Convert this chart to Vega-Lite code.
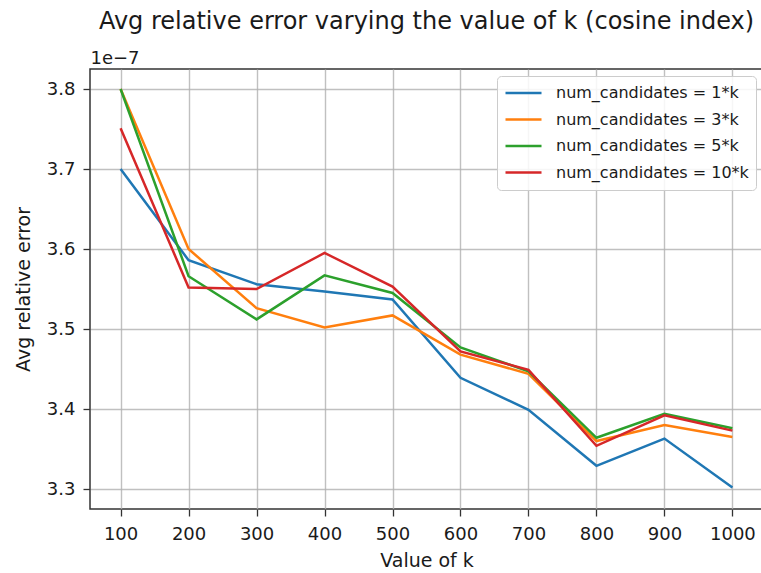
{
  "$schema": "https://vega.github.io/schema/vega-lite/v6.json",
  "autosize": {"type": "none"},
  "width": 673,
  "height": 440,
  "padding": {"left": 90, "top": 69, "right": 0, "bottom": 64},
  "background": "white",
  "title": {
    "text": "Avg relative error varying the value of k (cosine index)",
    "font": "DejaVu Sans",
    "fontSize": 24,
    "fontWeight": "normal",
    "color": "#1a1a1a",
    "anchor": "middle",
    "offset": 15
  },
  "config": {
    "view": {"stroke": "#333333", "strokeWidth": 1.5},
    "axis": {
      "labelFont": "DejaVu Sans",
      "titleFont": "DejaVu Sans",
      "labelFontSize": 18,
      "titleFontSize": 19,
      "titleFontWeight": "normal",
      "labelColor": "#1a1a1a",
      "titleColor": "#1a1a1a",
      "domain": false,
      "tickColor": "#333333",
      "tickSize": 7,
      "tickWidth": 1.3,
      "gridColor": "#b0b0b0",
      "gridWidth": 1.4,
      "gridOpacity": 0.8
    },
    "legend": {
      "labelFont": "DejaVu Sans",
      "labelFontSize": 16,
      "labelColor": "#1a1a1a",
      "labelLimit": 400
    }
  },
  "data": {
    "values": [
      {"k": 100, "series": "num_candidates = 1*k", "err": 3.700e-7},
      {"k": 200, "series": "num_candidates = 1*k", "err": 3.586e-7},
      {"k": 300, "series": "num_candidates = 1*k", "err": 3.556e-7},
      {"k": 400, "series": "num_candidates = 1*k", "err": 3.547e-7},
      {"k": 500, "series": "num_candidates = 1*k", "err": 3.537e-7},
      {"k": 600, "series": "num_candidates = 1*k", "err": 3.439e-7},
      {"k": 700, "series": "num_candidates = 1*k", "err": 3.399e-7},
      {"k": 800, "series": "num_candidates = 1*k", "err": 3.329e-7},
      {"k": 900, "series": "num_candidates = 1*k", "err": 3.363e-7},
      {"k": 1000, "series": "num_candidates = 1*k", "err": 3.302e-7},
      {"k": 100, "series": "num_candidates = 3*k", "err": 3.800e-7},
      {"k": 200, "series": "num_candidates = 3*k", "err": 3.600e-7},
      {"k": 300, "series": "num_candidates = 3*k", "err": 3.526e-7},
      {"k": 400, "series": "num_candidates = 3*k", "err": 3.502e-7},
      {"k": 500, "series": "num_candidates = 3*k", "err": 3.517e-7},
      {"k": 600, "series": "num_candidates = 3*k", "err": 3.468e-7},
      {"k": 700, "series": "num_candidates = 3*k", "err": 3.444e-7},
      {"k": 800, "series": "num_candidates = 3*k", "err": 3.360e-7},
      {"k": 900, "series": "num_candidates = 3*k", "err": 3.380e-7},
      {"k": 1000, "series": "num_candidates = 3*k", "err": 3.365e-7},
      {"k": 100, "series": "num_candidates = 5*k", "err": 3.800e-7},
      {"k": 200, "series": "num_candidates = 5*k", "err": 3.566e-7},
      {"k": 300, "series": "num_candidates = 5*k", "err": 3.512e-7},
      {"k": 400, "series": "num_candidates = 5*k", "err": 3.567e-7},
      {"k": 500, "series": "num_candidates = 5*k", "err": 3.545e-7},
      {"k": 600, "series": "num_candidates = 5*k", "err": 3.477e-7},
      {"k": 700, "series": "num_candidates = 5*k", "err": 3.447e-7},
      {"k": 800, "series": "num_candidates = 5*k", "err": 3.364e-7},
      {"k": 900, "series": "num_candidates = 5*k", "err": 3.394e-7},
      {"k": 1000, "series": "num_candidates = 5*k", "err": 3.376e-7},
      {"k": 100, "series": "num_candidates = 10*k", "err": 3.751e-7},
      {"k": 200, "series": "num_candidates = 10*k", "err": 3.552e-7},
      {"k": 300, "series": "num_candidates = 10*k", "err": 3.550e-7},
      {"k": 400, "series": "num_candidates = 10*k", "err": 3.595e-7},
      {"k": 500, "series": "num_candidates = 10*k", "err": 3.553e-7},
      {"k": 600, "series": "num_candidates = 10*k", "err": 3.472e-7},
      {"k": 700, "series": "num_candidates = 10*k", "err": 3.449e-7},
      {"k": 800, "series": "num_candidates = 10*k", "err": 3.354e-7},
      {"k": 900, "series": "num_candidates = 10*k", "err": 3.392e-7},
      {"k": 1000, "series": "num_candidates = 10*k", "err": 3.373e-7}
    ]
  },
  "resolve": {"axis": {"x": "independent"}},
  "layer": [
    {
      "mark": {"type": "line", "strokeWidth": 2.5, "clip": true},
      "encoding": {
        "x": {
          "field": "k",
          "type": "quantitative",
          "scale": {"domain": [55, 1045], "nice": false, "zero": false},
          "axis": {
            "title": "Value of k",
            "values": [100, 200, 300, 400, 500, 600, 700, 800, 900, 1000],
            "format": "d",
            "labelPadding": 9,
            "titlePadding": 8
          }
        },
        "y": {
          "field": "err",
          "type": "quantitative",
          "scale": {"domain": [3.275e-7, 3.825e-7], "nice": false, "zero": false},
          "axis": {
            "title": "Avg relative error",
            "values": [3.3e-7, 3.4e-7, 3.5e-7, 3.6e-7, 3.7e-7, 3.8e-7],
            "labelExpr": "format(datum.value * 1e7, '.1f')",
            "labelPadding": 8,
            "titlePadding": 13
          }
        },
        "color": {
          "field": "series",
          "type": "nominal",
          "sort": ["num_candidates = 1*k", "num_candidates = 3*k", "num_candidates = 5*k", "num_candidates = 10*k"],
          "scale": {
            "domain": ["num_candidates = 1*k", "num_candidates = 3*k", "num_candidates = 5*k", "num_candidates = 10*k"],
            "range": ["#1f77b4", "#ff7f0e", "#2ca02c", "#d62728"]
          },
          "legend": {
            "title": null,
            "orient": "top-right",
            "offset": 7,
            "symbolType": "stroke",
            "symbolSize": 1296,
            "symbolStrokeWidth": 2.5,
            "clipHeight": 20,
            "rowPadding": 6.5,
            "labelOffset": 13,
            "padding": 7,
            "fillColor": "rgba(255,255,255,0.85)",
            "strokeColor": "#cccccc",
            "cornerRadius": 4
          }
        }
      }
    },
    {
      "mark": {"type": "line", "strokeOpacity": 0},
      "encoding": {
        "x": {
          "field": "k",
          "type": "quantitative",
          "axis": {
            "orient": "top",
            "title": "1e\u22127",
            "labels": false,
            "ticks": false,
            "grid": false,
            "domain": false,
            "titleFontSize": 18,
            "titleAnchor": "start",
            "titleAlign": "left",
            "titleBaseline": "alphabetic",
            "titleX": 0,
            "titleY": -6
          }
        },
        "y": {"field": "err", "type": "quantitative"},
        "detail": {"field": "series"}
      }
    }
  ]
}
